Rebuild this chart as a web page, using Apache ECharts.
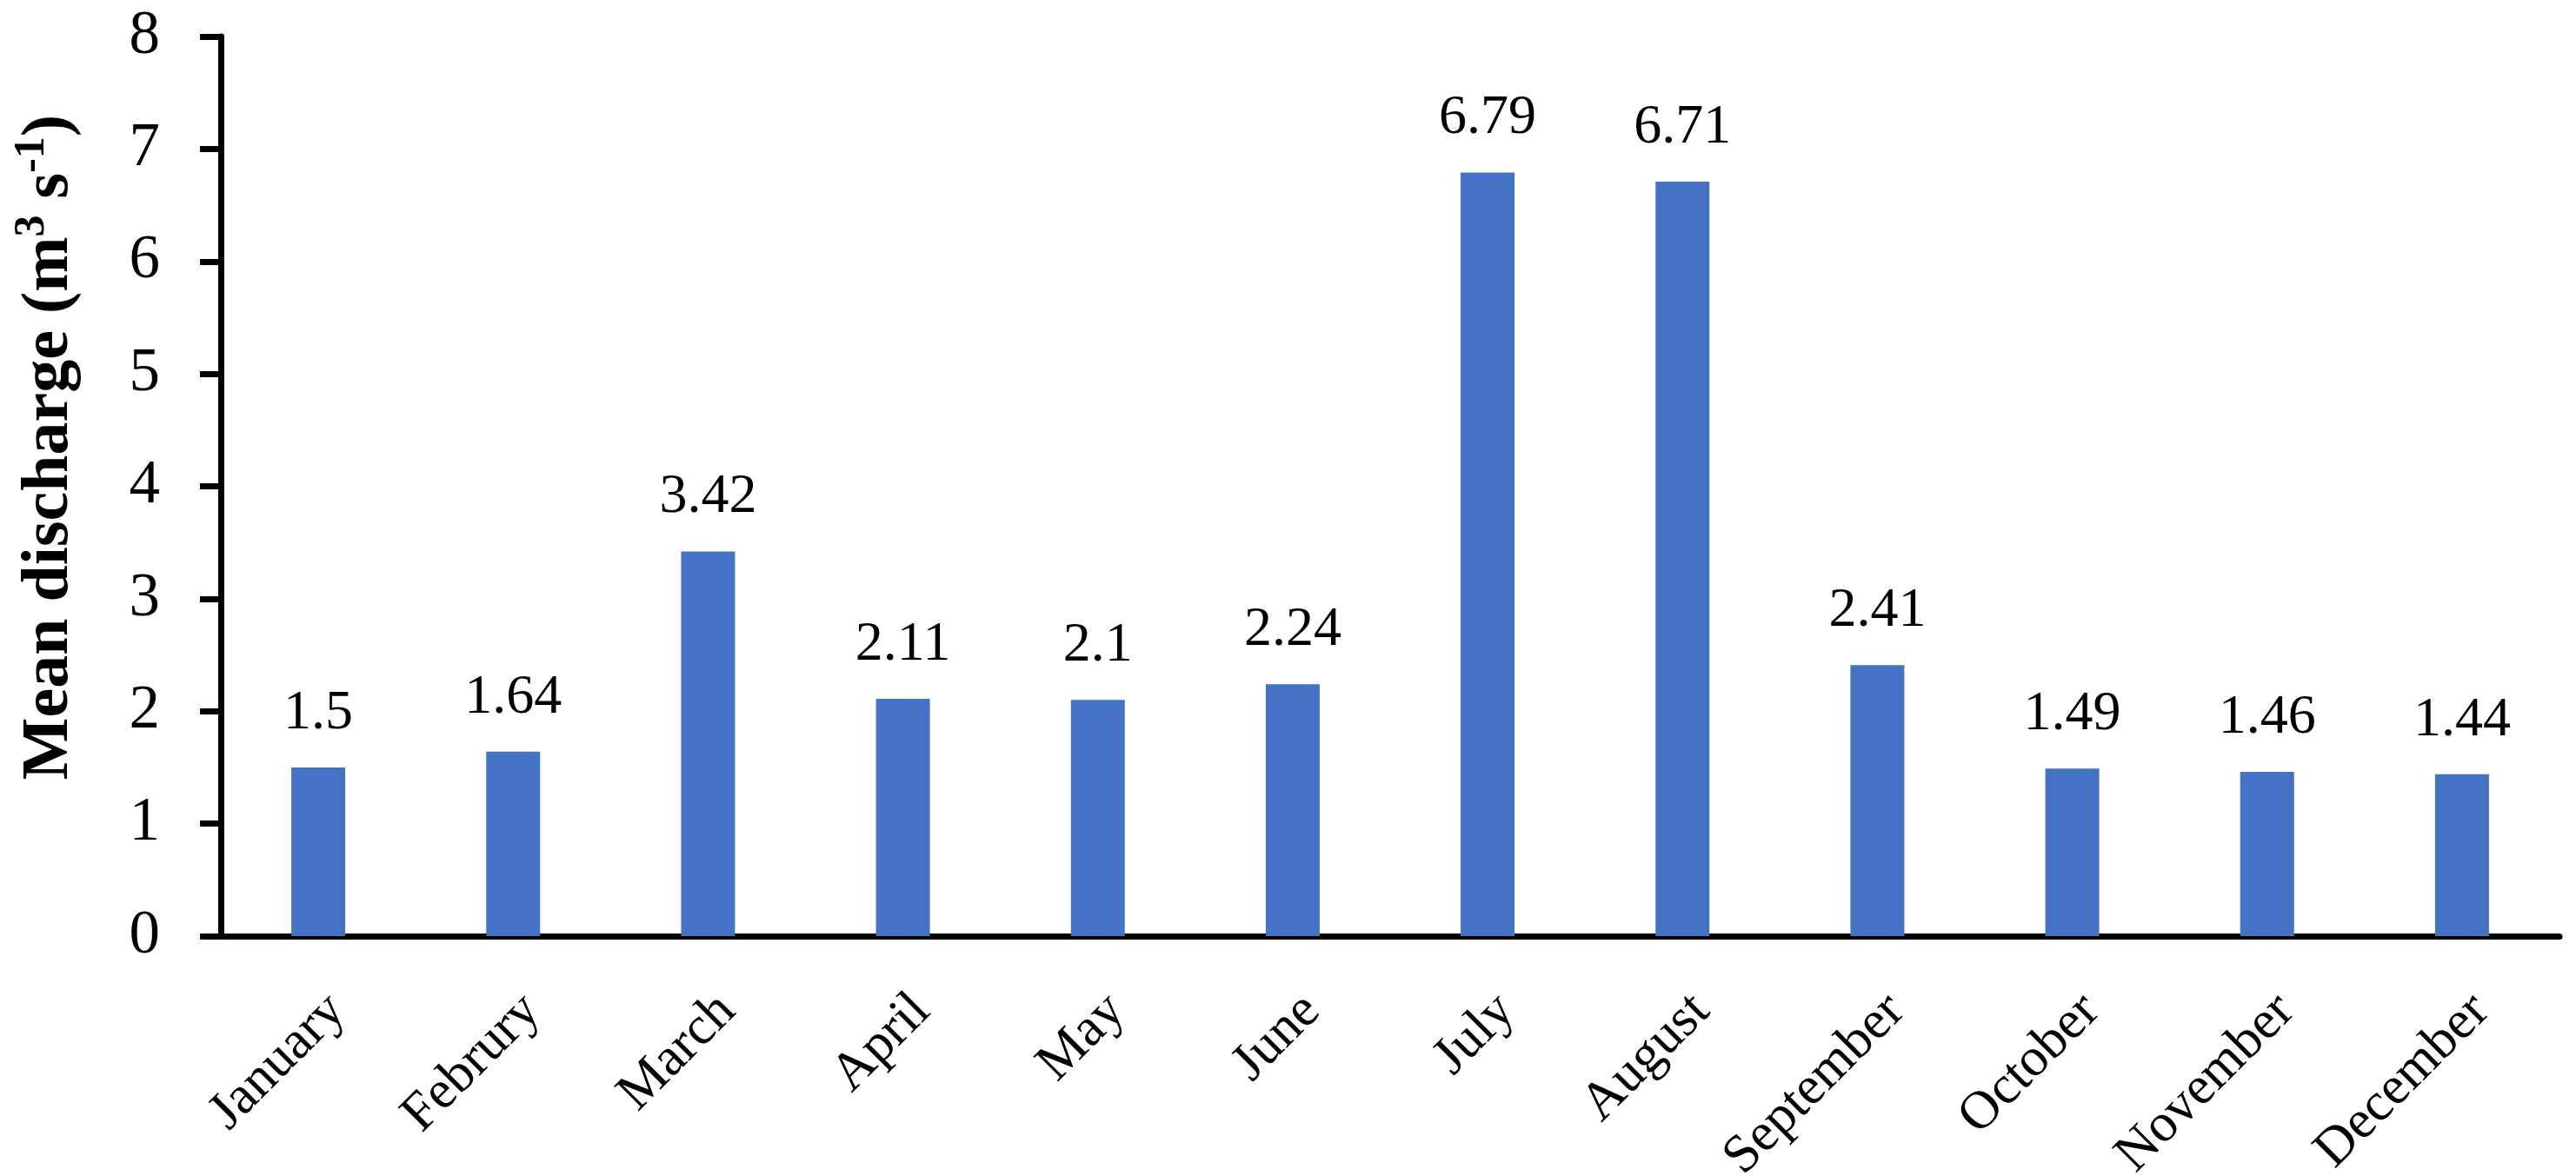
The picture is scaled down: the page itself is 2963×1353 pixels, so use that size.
<!DOCTYPE html>
<html>
<head>
<meta charset="utf-8">
<script src="https://cdn.jsdelivr.net/npm/echarts@6/dist/echarts.min.js"></script>
<style>
html,body{margin:0;padding:0;background:#fff;}
#chart{width:2963px;height:1353px;}
</style>
</head>
<body>
<div id="chart"></div>
<script>
const months = ['January','Februry','March','April','May','June','July','August','September','October','November','December'];
const discharge = [1.5, 1.64, 3.42, 2.11, 2.1, 2.24, 6.79, 6.71, 2.41, 1.49, 1.46, 1.44];
const yTicks = [0, 1, 2, 3, 4, 5, 6, 7, 8];

const FONT = '"Liberation Serif", "Times New Roman", serif';
const chart = echarts.init(document.getElementById('chart'), null, {renderer: 'canvas'});
chart.setOption({
  animation: false,
  backgroundColor: '#ffffff',
  grid: {left: 254, right: 19, top: 42, bottom: 276, containLabel: false, outerBoundsMode: 'none'},
  xAxis: {
    type: 'category',
    data: months,
    axisLine: {show: true, lineStyle: {color: '#000', width: 7}},
    axisTick: {show: false},
    axisLabel: {
      rotate: 45,
      verticalAlign: 'top',
      margin: 55,
      fontFamily: FONT,
      fontSize: 62,
      color: '#000'
    },
    splitLine: {show: false}
  },
  yAxis: {
    type: 'value',
    min: yTicks[0],
    max: yTicks[yTicks.length - 1],
    interval: 1,
    name: 'Mean discharge (m{sup|3} s{sup|-1})',
    nameLocation: 'middle',
    nameGap: 152,
    nameRotate: 90,
    nameTextStyle: {
      fontFamily: FONT,
      fontSize: 76,
      fontWeight: 'bold',
      color: '#000',
      lineHeight: 90,
      padding: [0, 0, 0, 90],
      rich: {
        sup: {fontFamily: FONT, fontSize: 50, fontWeight: 'bold', color: '#000', verticalAlign: 'top', lineHeight: 50}
      }
    },
    axisLine: {show: true, lineStyle: {color: '#000', width: 7}},
    axisTick: {show: true, inside: false, length: 24, lineStyle: {color: '#000', width: 7}},
    axisLabel: {
      margin: 70,
      fontFamily: FONT,
      fontSize: 71,
      color: '#000'
    },
    splitLine: {show: false}
  },
  series: [{
    type: 'bar',
    data: discharge,
    barWidth: 62,
    itemStyle: {color: '#4472C4'},
    label: {
      show: true,
      position: 'top',
      distance: 30,
      fontFamily: FONT,
      fontSize: 64,
      color: '#000'
    }
  }]
});
</script>
</body>
</html>
